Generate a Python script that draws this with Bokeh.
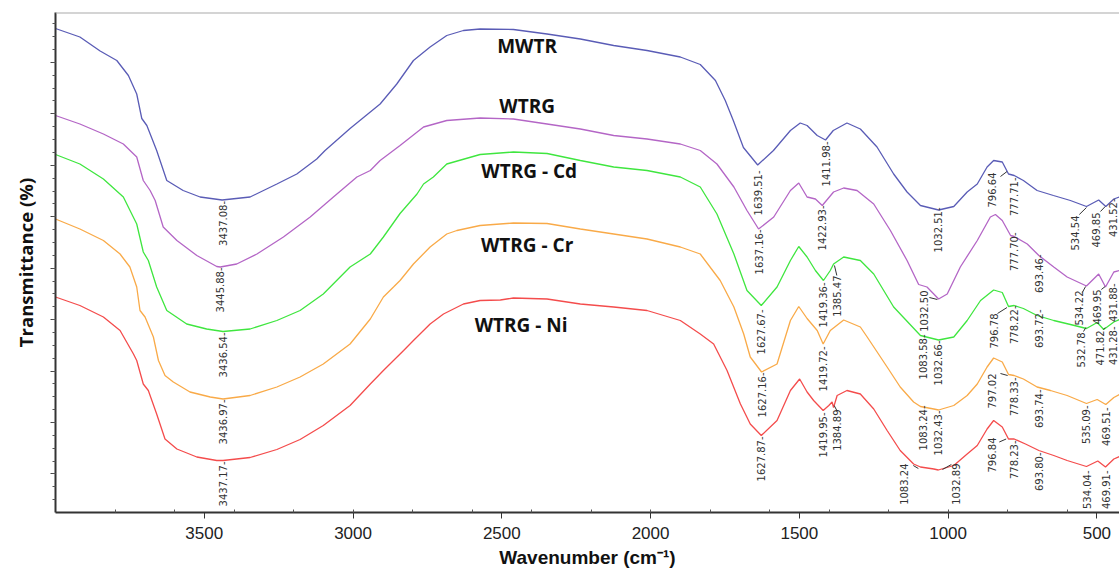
from math import pi
from bokeh.plotting import figure
from bokeh.models import Range1d, FixedTicker, Span, ColumnDataSource, CustomJSTickFormatter
from bokeh.core.properties import value
from bokeh.embed import file_html
from bokeh.resources import INLINE

# ---------------- data (wavenumber cm-1, transmittance in arbitrary offset units) -------------
mwtr_wn = [4000, 3918, 3850, 3794, 3755, 3727, 3710, 3693, 3660, 3626, 3571, 3514, 3440, 3346, 3256,
           3189, 3122, 3094, 3010, 2909, 2853, 2797, 2741, 2685, 2629, 2573, 2461, 2348, 2236, 2124,
           2012, 1900, 1833, 1782, 1749, 1722, 1688, 1640, 1587, 1530, 1497, 1474, 1440, 1412, 1386,
           1340, 1295, 1239, 1183, 1138, 1093, 1032, 981, 936, 902, 869, 847, 818, 797, 778, 747, 701,
           646, 589, 535, 494, 470, 443, 424]
mwtr_t = [96.8, 95.1, 92.3, 90.4, 87.4, 83.7, 78.8, 77.4, 72.4, 66.4, 64.4, 63.1, 62.5, 63.1, 65.7,
          67.7, 70.7, 72.4, 76.8, 81.7, 85.7, 90.4, 93.1, 95.4, 96.4, 96.7, 96.6, 95.7, 94.7, 93.4,
          92.4, 91.1, 89.6, 86.4, 82.4, 78.4, 73.0, 69.5, 72.4, 76.4, 77.9, 77.4, 75.4, 74.5, 76.4,
          77.9, 76.7, 73.1, 67.7, 64.1, 61.4, 60.5, 61.2, 64.1, 65.7, 69.1, 70.4, 70.1, 67.7, 67.4,
          66.4, 64.4, 63.4, 62.4, 61.2, 62.5, 61.2, 62.7, 63.1]

wtrg_wn = [4000, 3918, 3839, 3772, 3727, 3705, 3682, 3665, 3638, 3592, 3525, 3458, 3446, 3391, 3323,
           3234, 3144, 3066, 2987, 2942, 2909, 2842, 2763, 2685, 2573, 2461, 2348, 2236, 2124, 2012,
           1900, 1833, 1777, 1720, 1676, 1637, 1586, 1530, 1502, 1474, 1446, 1423, 1385, 1351, 1306,
           1250, 1194, 1138, 1099, 1071, 1032, 1003, 959, 902, 858, 841, 818, 790, 778, 734, 695, 645,
           600, 535, 494, 471, 443, 424]
wtrg_t = [79.4, 77.7, 75.7, 73.7, 71.1, 66.4, 64.4, 62.4, 57.1, 54.4, 51.4, 49.2, 49.1, 49.7, 51.7,
          55.1, 59.1, 63.1, 67.1, 68.4, 70.4, 73.4, 77.1, 78.4, 78.9, 78.7, 77.7, 76.7, 75.4, 74.7,
          73.7, 72.4, 69.7, 65.1, 60.4, 56.7, 59.1, 64.4, 65.9, 63.1, 62.7, 61.4, 64.1, 64.9, 64.4,
          61.7, 56.4, 50.4, 45.6, 45.1, 42.7, 43.7, 49.1, 54.4, 59.1, 59.6, 58.4, 55.4, 55.2, 53.7,
          51.4, 49.1, 47.1, 45.3, 47.7, 45.1, 48.1, 48.4]

cd_wn = [4000, 3918, 3839, 3772, 3727, 3705, 3688, 3660, 3626, 3559, 3492, 3437, 3346, 3256, 3178,
         3100, 3010, 2942, 2898, 2842, 2785, 2763, 2730, 2685, 2573, 2461, 2348, 2236, 2124, 2012,
         1900, 1833, 1777, 1720, 1676, 1628, 1575, 1530, 1502, 1474, 1446, 1419, 1396, 1385, 1351,
         1295, 1250, 1183, 1093, 1032, 981, 936, 891, 847, 818, 797, 778, 747, 701, 645, 589, 535,
         499, 477, 443, 424]
cd_t = [71.6, 69.7, 66.7, 63.1, 57.7, 52.1, 50.4, 45.1, 40.4, 37.7, 36.7, 36.2, 36.7, 38.4, 40.4,
        43.7, 49.1, 51.7, 55.1, 59.8, 63.7, 65.7, 67.1, 69.7, 71.6, 72.1, 71.8, 70.4, 69.1, 68.4,
        67.1, 65.1, 59.7, 51.7, 44.4, 41.4, 45.1, 50.4, 53.2, 51.1, 48.4, 46.4, 48.4, 49.7, 51.1,
        50.4, 47.7, 41.1, 35.4, 34.5, 35.1, 38.4, 42.4, 44.5, 44.0, 41.2, 41.4, 40.8, 39.4, 38.4,
        37.6, 36.8, 38.0, 36.6, 38.1, 38.6]

cr_wn = [4000, 3918, 3839, 3783, 3750, 3727, 3716, 3699, 3671, 3654, 3632, 3604, 3548, 3480, 3437,
         3346, 3256, 3178, 3100, 3010, 2942, 2898, 2864, 2842, 2797, 2741, 2685, 2651, 2573, 2461,
         2348, 2236, 2124, 2012, 1900, 1833, 1766, 1720, 1687, 1665, 1627, 1575, 1530, 1502, 1474,
         1440, 1420, 1396, 1351, 1295, 1272, 1205, 1161, 1116, 1093, 1048, 1032, 981, 936, 902, 869,
         847, 818, 797, 778, 747, 701, 656, 600, 535, 499, 470, 443, 424]
cr_t = [58.7, 56.7, 54.4, 51.7, 49.1, 45.1, 40.4, 39.1, 35.1, 30.4, 27.4, 26.1, 24.1, 23.1, 22.7,
        23.4, 25.1, 27.1, 29.7, 33.7, 38.7, 43.1, 45.1, 46.4, 49.7, 53.1, 55.7, 56.4, 57.4, 57.9,
        57.8, 56.7, 55.7, 54.7, 53.1, 51.7, 46.4, 41.1, 35.7, 31.1, 28.1, 29.7, 38.4, 41.2, 38.8,
        36.4, 33.7, 36.4, 38.5, 37.1, 35.1, 29.1, 25.1, 22.1, 21.2, 20.7, 20.5, 21.4, 23.4, 25.7,
        29.1, 30.9, 30.1, 27.6, 27.4, 26.7, 25.1, 24.4, 23.4, 21.8, 22.6, 21.6, 23.0, 23.6]

ni_wn = [4000, 3918, 3839, 3783, 3738, 3727, 3705, 3688, 3660, 3632, 3592, 3525, 3458, 3437, 3346,
         3256, 3178, 3100, 3010, 2942, 2898, 2830, 2797, 2763, 2741, 2696, 2629, 2573, 2505, 2461,
         2348, 2236, 2124, 2012, 1900, 1833, 1788, 1743, 1698, 1665, 1628, 1575, 1530, 1499, 1474,
         1452, 1420, 1401, 1390, 1385, 1373, 1340, 1295, 1250, 1205, 1161, 1116, 1093, 1048, 1033,
         981, 936, 902, 869, 847, 818, 797, 778, 740, 695, 645, 600, 535, 497, 471, 443, 424]
ni_t = [43.1, 41.4, 39.1, 36.4, 31.7, 30.4, 25.7, 24.4, 19.7, 14.7, 12.7, 11.1, 10.4, 10.4, 11.0,
        12.6, 14.6, 17.4, 21.4, 25.7, 28.4, 32.4, 34.4, 36.4, 37.7, 39.7, 41.7, 42.4, 42.5, 42.9,
        42.7, 41.7, 41.1, 40.4, 38.4, 35.7, 33.7, 28.4, 21.7, 17.7, 15.4, 18.4, 24.4, 26.7, 24.1,
        22.4, 20.4, 21.4, 22.1, 21.0, 23.4, 24.4, 23.7, 20.7, 16.4, 12.4, 9.7, 9.1, 8.7, 8.5,
        9.4, 11.7, 13.4, 16.7, 18.4, 17.1, 14.7, 14.7, 13.7, 12.4, 11.4, 10.4, 9.2, 10.3, 9.1, 10.7, 11.2]

series_names = ["MWTR", "WTRG", "WTRG - Cd", "WTRG - Cr", "WTRG - Ni"]
series_wn = [mwtr_wn, wtrg_wn, cd_wn, cr_wn, ni_wn]
series_t = [mwtr_t, wtrg_t, cd_t, cr_t, ni_t]
series_colors = ["#5a5cb6", "#b466c6", "#3fe63f", "#f9aa48", "#f44c4c"]

# curve name labels (position)
name_x = [2415, 2415, 2408, 2415, 2435]
name_y = [93.4, 81.4, 68.3, 53.6, 37.6]

# peak annotations (text, x, top-y)
peak_text = ["3437.08-", "1639.51-", "1411.98-", "1032.51-", "796.64", "777.71-", "534.54", "469.85", "431.52-",
             "3445.88-", "1637.16-", "1422.93-", "1032.50", "777.70-", "693.46-", "534.22", "469.95", "431.88-",
             "3436.54-", "1627.67-", "1419.36-", "1385.47", "1083.58-", "1032.66-", "796.78", "778.22-", "693.72-",
             "532.78", "471.82", "431.28-",
             "3436.97-", "1627.16-", "1419.72-", "1083.24-", "1032.43-", "797.02", "778.33-", "693.74-", "535.09-", "469.51-",
             "3437.17-", "1627.87-", "1419.95-", "1384.89", "1083.24", "1032.89", "796.84", "778.23-", "693.80-", "534.04-", "469.91-"]
peak_x = [3437.08, 1639.51, 1411.98, 1032.51, 852, 777.71, 572, 502, 445,
          3445.88, 1637.16, 1422.93, 1080, 777.70, 693.46, 561, 499, 445,
          3436.54, 1627.67, 1419.36, 1373, 1083.58, 1032.66, 847, 778.22, 693.72, 555, 488, 445,
          3436.97, 1627.16, 1419.72, 1083.24, 1032.43, 852, 778.33, 693.74, 535.09, 469.51,
          3437.17, 1627.87, 1419.95, 1373, 1149, 975, 852, 778.23, 693.80, 534.04, 469.91]
peak_y = [62.3, 68.4, 74.2, 61.0, 68.0, 67.0, 59.4, 60.0, 62.8,
          49.0, 56.6, 61.4, 44.4, 56.0, 51.6, 44.4, 44.6, 45.8,
          36.0, 40.6, 46.0, 47.4, 35.6, 34.4, 39.8, 41.4, 40.6, 36.0, 36.4, 37.2,
          22.6, 28.0, 33.2, 21.4, 20.4, 27.8, 27.0, 24.6, 21.4, 21.0,
          10.2, 15.2, 20.0, 20.6, 9.8, 9.8, 15.0, 14.4, 12.0, 8.4, 8.4]

# leader strokes for the labels without a dash
lead_x0 = [824, 559, 488, 1063, 549, 485, 1374, 834, 545, 478, 824, 1374, 1117, 989, 828]
lead_y0 = [67.2, 59.6, 60.2, 43.0, 44.0, 44.6, 47.4, 39.8, 36.2, 36.6, 27.8, 20.4, 9.4, 9.6, 14.1]
lead_x1 = [802, 535, 472, 1036, 538, 472, 1382, 802, 537, 472, 800, 1383, 1100, 1019, 805]
lead_y1 = [68.2, 61.0, 61.2, 42.6, 45.2, 45.2, 49.4, 41.0, 37.0, 37.0, 27.4, 21.4, 8.8, 8.6, 14.7]

x_major = [500, 1000, 1500, 2000, 2500, 3000, 3500]
x_minor = [600, 800, 1000, 1200, 1400, 1600, 1800, 2000, 2200, 2400, 2600, 2800, 3000, 3200, 3400, 3600, 3800]
tick_step = 2.572
y_major = [round(tick_step * k, 3) for k in range(3, 38, 4)]
y_minor = [round(tick_step * k, 3) for k in range(1, 39)]

# ---------------- figure ----------------
p = figure(width=1119, height=571, x_range=Range1d(4000, 424), y_range=Range1d(0, 100),
           output_backend="svg", toolbar_location=None,
           min_border_left=55, min_border_right=0, min_border_top=12, min_border_bottom=59)
p.outline_line_color = None
p.grid.visible = False
p.background_fill_color = "white"

for wn, t, c in zip(series_wn, series_t, series_colors):
    p.line(wn, t, line_color=c, line_width=1.3)

p.text(x=name_x, y=name_y, text=series_names, text_font=value("Open Sans"), text_font_style="bold",
       text_font_size="19px", text_align="center", text_baseline="middle", text_color="#111111")

src = ColumnDataSource(dict(x=peak_x, y=peak_y, text=peak_text))
p.text(x="x", y="y", text="text", source=src, angle=pi / 2, text_align="right", text_baseline="middle",
       text_font=value("DejaVu Sans"), text_font_size="10px", text_color="#333333")
p.segment(x0=lead_x0, y0=lead_y0, x1=lead_x1, y1=lead_y1, line_color="#333333", line_width=1)

p.add_layout(Span(location=100, dimension="width", line_color="#aaaaaa", line_width=2))

xa = p.xaxis[0]
xa.ticker = FixedTicker(ticks=x_major, minor_ticks=x_minor)
xa.major_tick_out = 6
xa.major_tick_in = 0
xa.minor_tick_in = 3
xa.minor_tick_out = 0
xa.axis_line_width = 2
xa.axis_line_color = "#333333"
xa.major_tick_line_color = "#333333"
xa.minor_tick_line_color = "#555555"
xa.major_label_text_font = "Liberation Sans"
xa.major_label_text_font_size = "17px"
xa.major_label_text_color = "#222222"
xa.major_label_standoff = 8
xa.axis_label = "Wavenumber (cm⁻¹)"
xa.axis_label_text_font = "Liberation Sans"
xa.axis_label_text_font_style = "bold"
xa.axis_label_text_font_size = "19px"
xa.axis_label_text_color = "#111111"
xa.axis_label_standoff = 5

ya = p.yaxis[0]
ya.ticker = FixedTicker(ticks=y_major, minor_ticks=y_minor)
ya.formatter = CustomJSTickFormatter(code="return ''")
ya.major_tick_out = 5
ya.major_tick_in = 0
ya.minor_tick_out = 3
ya.minor_tick_in = 0
ya.axis_line_width = 2
ya.axis_line_color = "#333333"
ya.major_tick_line_color = "#444444"
ya.minor_tick_line_color = "#555555"
ya.axis_label = "Transmittance (%)"
ya.axis_label_text_font = "Open Sans"
ya.axis_label_text_font_style = "bold"
ya.axis_label_text_font_size = "18.5px"
ya.axis_label_text_color = "#111111"
ya.axis_label_standoff = 13

open("out.html", "w").write(file_html(p, INLINE))
